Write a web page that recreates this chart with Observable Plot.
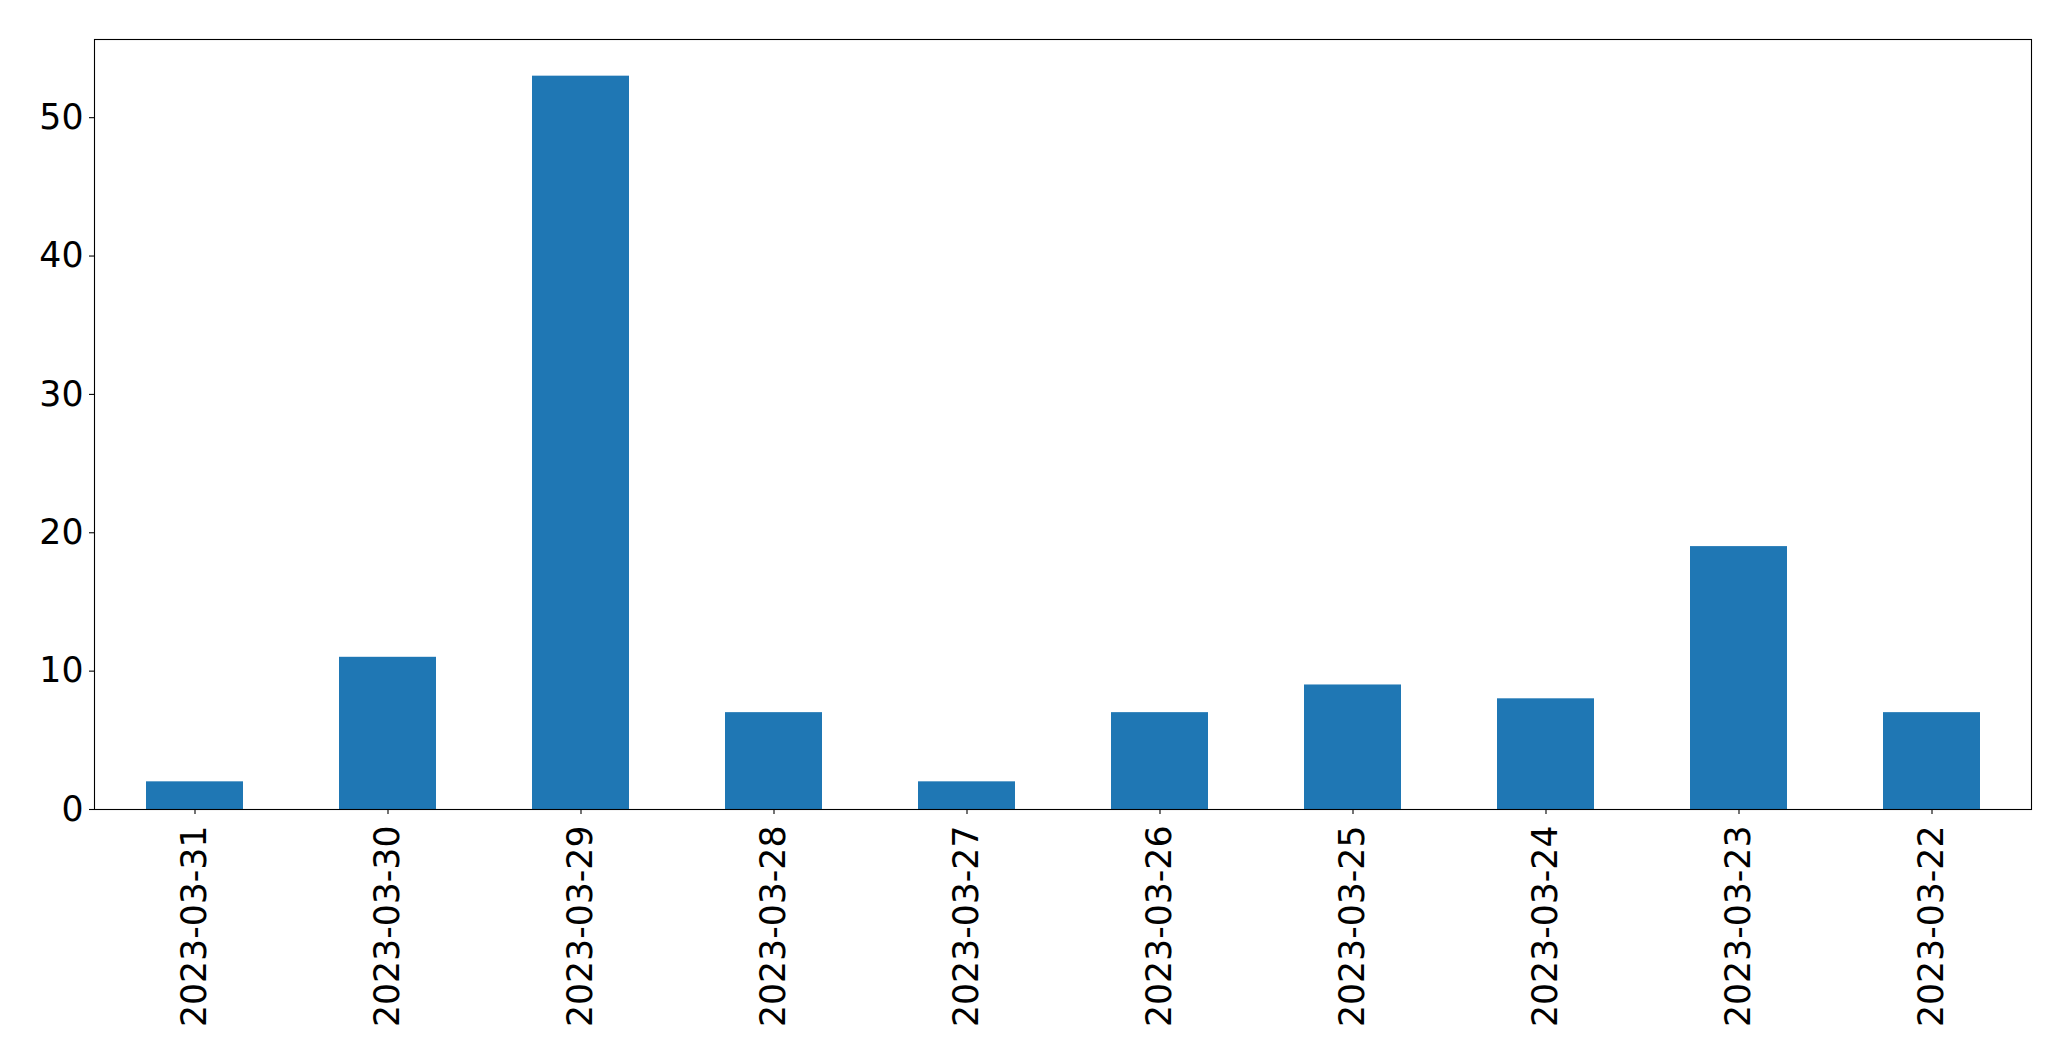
<!DOCTYPE html>
<html>
<head>
<meta charset="utf-8">
<script src="https://cdn.jsdelivr.net/npm/d3@7"></script>
<script src="https://cdn.jsdelivr.net/npm/@observablehq/plot@0.6"></script>
<style>
  html, body { margin: 0; padding: 0; background: #fff; }
  #chart svg { display: block; }
</style>
</head>
<body>
<div id="chart"></div>
<script>
const dates = ["2023-03-31", "2023-03-30", "2023-03-29", "2023-03-28", "2023-03-27",
               "2023-03-26", "2023-03-25", "2023-03-24", "2023-03-23", "2023-03-22"];
const counts = [2, 11, 53, 7, 2, 7, 9, 8, 19, 7];
const yTicks = [0, 10, 20, 30, 40, 50];

const data = dates.map((d, i) => ({date: d, count: counts[i]}));
const yMax = d3.max(counts) * 1.05;

const chart = Plot.plot({
  width: 2071,
  height: 1061,
  marginLeft: 94,
  marginRight: 40,
  marginTop: 39,
  marginBottom: 252,
  style: {fontFamily: "DejaVu Sans", fontSize: "34.7px", color: "#000", background: "#fff"},
  x: {type: "band", domain: dates, paddingInner: 0.5, paddingOuter: 0.25, label: null},
  y: {domain: [0, yMax], label: null},
  marks: [
    Plot.barY(data, {x: "date", y: "count", fill: "#1f77b4"}),
    Plot.frame({stroke: "#000", strokeWidth: 1.1}),
    Plot.axisY({ticks: yTicks, tickSize: 5, tickPadding: 6, fontSize: 34.7, label: null, stroke: "#000", strokeWidth: 1.1}),
    Plot.axisX({tickRotate: -90, tickSize: 5, tickPadding: 11, fontSize: 34.7, label: null, stroke: "#000", strokeWidth: 1.1})
  ]
});
document.getElementById("chart").appendChild(chart);
</script>
</body>
</html>
